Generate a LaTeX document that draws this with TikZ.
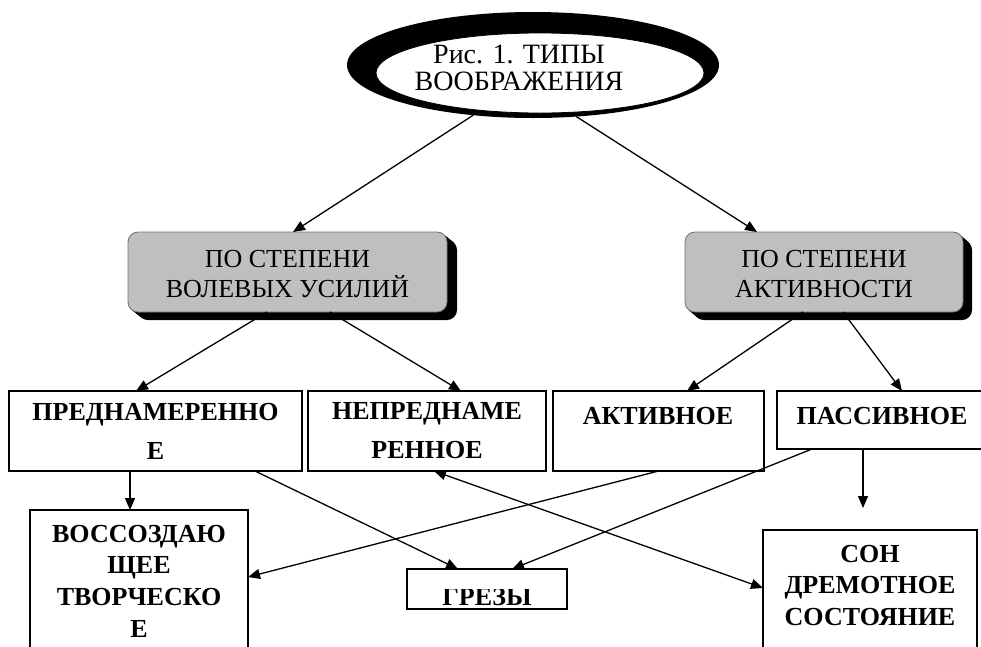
\documentclass[tikz,border=0pt]{standalone}
\usepackage{fontspec}
\setmainfont{Liberation Serif}
\usetikzlibrary{arrows.meta,shapes.geometric}
\pgfdeclarelayer{bg}
\pgfsetlayers{bg,main}
\tikzset{
  graybox/.style={draw=black!55, line width=0.8pt, fill=black!25, rounded corners=10pt, inner sep=0pt, outer sep=0pt},
  plainbox/.style={draw=black, line width=1.6pt, fill=white, inner sep=0pt, outer sep=0pt},
  lbl/.style={inner sep=0pt, outer sep=0pt, align=center, anchor=north},
  regtext/.style={lbl, font=\fontsize{26}{30}\selectfont},
  boldtext/.style={lbl, font=\fontsize{26}{31.7}\selectfont\bfseries},
  boldwide/.style={lbl, font=\fontsize{26}{39}\selectfont\bfseries},
  arr/.style={line width=1.3pt, -{Triangle[length=12pt,width=10pt]}},
  darr/.style={line width=1.3pt, {Triangle[length=12pt,width=10pt]}-{Triangle[length=12pt,width=10pt]}},
}
\begin{document}
\begin{tikzpicture}[x=1pt,y=1pt]
\useasboundingbox (0,0) rectangle (981,-646);
\clip (0,0) rectangle (981,-646);

% title ellipse
\node[ellipse, fill=black, inner sep=0pt, outer sep=0pt, minimum width=372pt, minimum height=106pt] (topbk) at (533,-65) {};
\node[ellipse, fill=white, draw=black, line width=0.8pt, inner sep=0pt, outer sep=0pt, minimum width=328pt, minimum height=80pt] (top) at (540,-73) {};
\node[lbl, font=\fontsize{28}{27}\selectfont] (topt) at (519,-45) {Рис. 1. ТИПЫ\\ВООБРАЖЕНИЯ};

% gray boxes
\node[graybox, minimum width=319pt, minimum height=80pt] (b1) at (287.5,-272) {};
\node[regtext] (b1t) at (287.5,-249.8) {ПО СТЕПЕНИ\\ВОЛЕВЫХ УСИЛИЙ};
\node[graybox, minimum width=278pt, minimum height=80pt] (b2) at (824,-272) {};
\node[regtext] (b2t) at (824,-249.8) {ПО СТЕПЕНИ\\АКТИВНОСТИ};

\begin{pgfonlayer}{bg}
\foreach \d in {0,0.5,...,10} {
  \fill[black, rounded corners=10pt] ([xshift=\d, yshift={-0.8*\d}]b1.south west) rectangle ([xshift=\d, yshift={-0.8*\d}]b1.north east);
  \fill[black, rounded corners=10pt] ([xshift={0.9*\d}, yshift={-0.8*\d}]b2.south west) rectangle ([xshift={0.9*\d}, yshift={-0.8*\d}]b2.north east);
}
\end{pgfonlayer}

% middle row
\node[plainbox, minimum width=293pt, minimum height=80pt] (p1) at (155.5,-431) {};
\node[boldwide] (p1t) at (155.5,-402.8) {ПРЕДНАМЕРЕННО\\Е};
\node[plainbox, minimum width=238pt, minimum height=80pt] (p2) at (427,-431) {};
\node[boldwide] (p2t) at (427,-402.8) {НЕПРЕДНАМЕ\\РЕННОЕ};
\node[plainbox, minimum width=211pt, minimum height=80pt] (p3) at (658.5,-431) {};
\node[boldtext] (p3t) at (658,-406.8) {АКТИВНОЕ};
\node[plainbox, minimum width=210pt, minimum height=58pt] (p4) at (882,-420) {};
\node[boldtext] (p4t) at (882,-406.8) {ПАССИВНОЕ};

% bottom row
\node[plainbox, minimum width=218pt, minimum height=150pt] (q1) at (139,-585) {};
\node[boldtext] (q1t) at (139,-524.8) {ВОССОЗДАЮ\\ЩЕЕ\\ТВОРЧЕСКО\\Е};
\node[plainbox, minimum width=160pt, minimum height=40pt] (q2) at (487,-589) {};
\begin{scope}
  \clip ([yshift=-20pt]q2.north west) rectangle (q2.south east);
  \node[boldtext, anchor=base] (q2t) at (487,-605) {ГРЕЗЫ};
\end{scope}
\node[plainbox, minimum width=214pt, minimum height=130pt] (q3) at (870,-595) {};
\node[boldtext] (q3t) at (870,-544.8) {СОН\\ДРЕМОТНОЕ\\СОСТОЯНИЕ};

% connectors
\draw[arr] (topbk.220) -- ([xshift=5.5pt]b1.north);
\draw[arr] (topbk.310) -- ([xshift=-67pt]b2.north);
\draw[arr] ([xshift=-20.5pt]b1.south) -- ([xshift=-19.5pt]p1.north);
\draw[arr] ([xshift=42.5pt]b1.south) -- ([xshift=34pt]p2.north);
\draw[arr] ([xshift=-21pt]b2.south) -- ([xshift=28.5pt]p3.north);
\draw[arr] ([xshift=19pt]b2.south) -- ([xshift=20pt]p4.north);
\draw[arr] ([xshift=-25.5pt]p1.south) -- ([xshift=-9pt]q1.north);
\draw[arr] ([xshift=99.5pt]p1.south) -- ([xshift=-29pt]q2.north);
\draw[arr] (p3.south) -- ([yshift=8pt]q1.east);
\draw[arr] ([xshift=35pt]p4.south west) -- ([xshift=25pt]q2.north);
\draw[arr] ([xshift=-19pt]p4.south) -- ([xshift=-7pt,yshift=22pt]q3.north);
\draw[darr] ([xshift=7pt]p2.south) -- ([yshift=7pt]q3.west);
\end{tikzpicture}
\end{document}
